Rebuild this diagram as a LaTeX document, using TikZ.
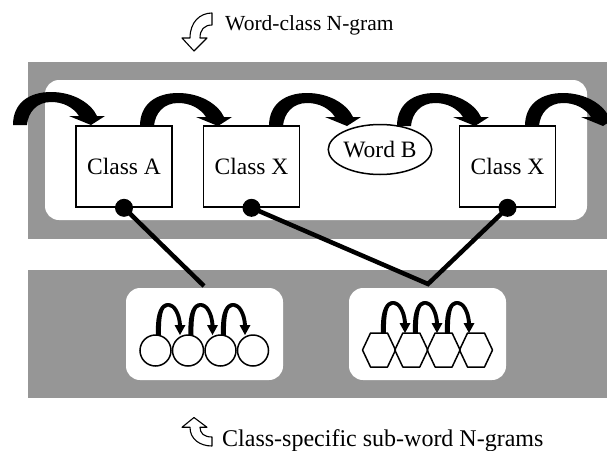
\documentclass[tikz,border=0pt]{standalone}
\usepackage{fontspec}
\setmainfont{Liberation Serif}
\newfontfamily\tnr{Liberation Serif}
\usetikzlibrary{shapes.geometric}
\definecolor{bandgray}{RGB}{150,150,150}
\newcommand\bigarc[1]{\fill[shift={#1}] (0,0) .. controls (0,-22) and (16,-33) .. (38,-33) .. controls (60,-33) and (78,-22) .. (84,-9) -- (92,-9) -- (78,0) -- (56,-9) -- (66,-9) .. controls (60,-18) and (50,-23) .. (38,-23) .. controls (24,-23) and (15,-13) .. (14,0) -- cycle;}
\newcommand\smallarc[1]{\fill[shift={#1}] (0,0) .. controls (-1,-24) and (5,-32) .. (12,-32) .. controls (20,-32) and (25,-22) .. (26,-10) -- (29.5,-10) -- (24,0) -- (18.5,-10) -- (22,-10) .. controls (21.5,-20) and (17,-28.5) .. (12,-28.5) .. controls (7,-28.5) and (4.5,-20) .. (5,0) -- cycle;}
\newcommand\hexat[1]{\draw[line width=1.5pt, line join=round, shift={#1}] (-16.5,0) -- (-8.5,-17) -- (8.5,-17) -- (16.5,0) -- (8.5,17) -- (-8.5,17) -- cycle;}
\newcommand\iconpath{(0,0) .. controls (-12,0) and (-22,9) .. (-22,25) -- (-30,25) -- (-18,38) -- (-5,25) -- (-12,25) .. controls (-12,17) and (-8,12) .. (0,12) -- cycle}
\begin{document}
\begin{tikzpicture}[x=1pt,y=-1pt,
  band/.style={fill=bandgray},
  panel/.style={fill=white, rounded corners=14pt},
  classbox/.style={draw, line width=1.6pt, fill=white, minimum width=96pt, minimum height=81pt, inner sep=0pt, font=\tnr\fontsize{23.5}{26}\selectfont},
  wordell/.style={draw, ellipse, line width=1.5pt, fill=white, minimum width=95pt, minimum height=50pt, inner sep=0pt, font=\tnr\fontsize{23.5}{26}\selectfont},
  link/.style={line width=4.5pt, line join=miter},
  dot/.style={circle, fill=black, inner sep=0pt, minimum size=18pt},
  unit/.style={draw, circle, line width=1.5pt, minimum size=31pt, inner sep=0pt},
  icon/.style={draw, fill=white, line width=1.1pt, line join=round},
  label/.style={anchor=base west, inner sep=0pt}
]
\useasboundingbox (0,0) rectangle (607,450);
% bands and panels
\fill[band] (28,62) rectangle (607,239);
\fill[band] (28,270) rectangle (607,398);
\fill[panel] (45,80) rectangle (587,220);
\fill[panel] (126,288) rectangle (283,380);
\fill[panel] (349,288) rectangle (506,380);
% titles
\node[label, font=\tnr\fontsize{21.5}{24}\selectfont] (t1) at (225,30) {Word-class N-gram};
\node[label, font=\tnr\fontsize{24}{27}\selectfont] (t2) at (222,446) {Class-specific sub-word N-grams};
\draw[icon, shift={(212,13)}] \iconpath;
\draw[icon, shift={(212,446)}, yscale=-0.75] \iconpath;
% big arcs
\bigarc{(13,125)}
\bigarc{(140,126)}
\bigarc{(269,126)}
\bigarc{(397,126)}
\bigarc{(525,126)}
% top nodes
\node[classbox] (ca) at (124,166.5) {Class A};
\node[classbox] (cx1) at (251.5,166.5) {Class X};
\node[wordell] (wb) at (380,149.5) {Word B};
\node[classbox] (cx2) at (507.5,166.5) {Class X};
% connectors
\coordinate (j1) at (204,286);
\coordinate (j2) at (428,284);
\draw[link] (ca.south) -- (j1);
\draw[link] (cx1.south) -- (j2) -- (cx2.south);
\node[dot] (da) at (ca.south) {};
\node[dot] (dx1) at (cx1.south) {};
\node[dot] (dx2) at (cx2.south) {};
% circles
\node[unit] (c1) at (155.5,350.5) {};
\node[unit] (c2) at (188,350.5) {};
\node[unit] (c3) at (220.5,350.5) {};
\node[unit] (c4) at (253,350.5) {};
\smallarc{(156,335)}
\smallarc{(188.5,335)}
\smallarc{(221,335)}
% hexagons
\hexat{(379,350)}
\hexat{(411.3,350)}
\hexat{(443.6,350)}
\hexat{(476,350)}
\smallarc{(381,333)}
\smallarc{(413,333)}
\smallarc{(445,333)}
\end{tikzpicture}
\end{document}
